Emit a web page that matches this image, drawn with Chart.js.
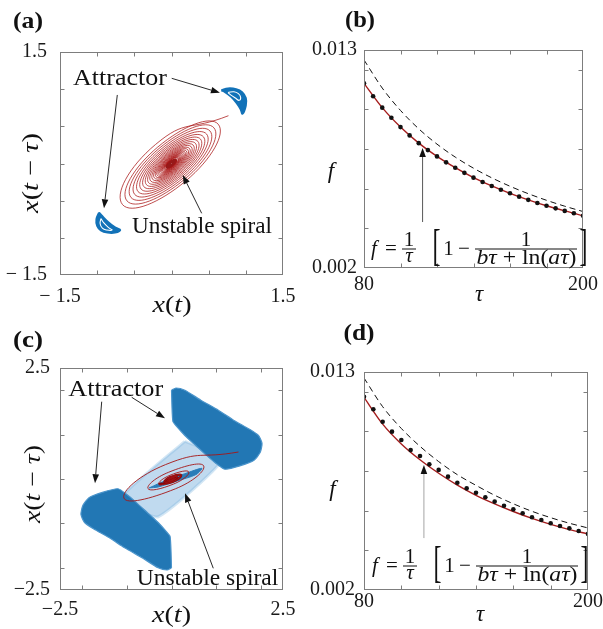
<!DOCTYPE html>
<html><head><meta charset="utf-8">
<script src="https://cdn.jsdelivr.net/npm/chart.js@4.4.0/dist/chart.umd.min.js"></script>
<style>
html,body{margin:0;padding:0;background:#fff;}
#wrap{position:relative;width:603px;height:629px;overflow:hidden;background:#fff;}
canvas{position:absolute;left:0;top:0;}
</style></head><body>
<div id="wrap">
<canvas id="ca" width="603" height="629"></canvas>
<canvas id="cb" width="603" height="629"></canvas>
<canvas id="cc" width="603" height="629"></canvas>
<canvas id="cd" width="603" height="629"></canvas>
</div>
<script>
// ---------------- DATA ----------------
// Panel (a): tick marks and phase-plane curves
const ticksA = [-1, -0.5, 0, 0.5, 1];
const spiralAX = [0.766,-0.215,-0.659,0.195, 0.629,-0.185,-0.599,0.177, 0.571,-0.169,-0.545,0.161,
 0.519,-0.153,-0.495,0.146, 0.472,-0.139,-0.450,0.133, 0.429,-0.127,-0.409,0.121, 0.390,-0.115,-0.372,0.110,
 0.355,-0.105,-0.338,0.100, 0.322,-0.095,-0.308,0.091, 0.293,-0.087,-0.280,0.082, 0.267,-0.079,-0.254,0.075,
 0.242,-0.072,-0.231,0.068, 0.220,-0.065,-0.210,0.062, 0.200,-0.059,-0.191,0.056, 0.182,-0.054,-0.174,0.051,
 0.166,-0.049,-0.158,0.047, 0.151,-0.044,-0.143,0.042, 0.137,-0.040,-0.130,0.038, 0.124,-0.037,-0.119,0.035,
 0.113,-0.033,-0.108,0.032, 0.103,-0.030,-0.098,0.029, 0.093,-0.028,-0.089,0.026, 0.085,-0.025,-0.081,0.024, 0.077];
const spiralAY = [0.643,0.256,-0.553,-0.232, 0.528,0.221,-0.503,-0.211, 0.480,0.201,-0.457,-0.192,
 0.436,0.183,-0.416,-0.174, 0.396,0.166,-0.378,-0.158, 0.360,0.151,-0.344,-0.144, 0.328,0.137,-0.312,-0.131,
 0.298,0.125,-0.284,-0.119, 0.271,0.113,-0.258,-0.108, 0.246,0.103,-0.235,-0.098, 0.224,0.094,-0.213,-0.089,
 0.203,0.085,-0.194,-0.081, 0.185,0.077,-0.176,-0.074, 0.168,0.070,-0.160,-0.067, 0.153,0.064,-0.146,-0.061,
 0.139,0.058,-0.133,-0.055, 0.126,0.053,-0.120,-0.050, 0.115,0.048,-0.110,-0.046, 0.104,0.044,-0.100,-0.042,
 0.095,0.040,-0.091,-0.038, 0.086,0.036,-0.082,-0.034, 0.078,0.033,-0.075,-0.031, 0.071,0.030,-0.068,-0.028, 0.065];
const coreAX = [0.069,-0.020,-0.063,0.018,0.057,-0.016,-0.051,0.014,0.044,-0.013,-0.038,0.011,0.032,-0.009,-0.026];
const coreAY = [0.058,0.024,-0.053,-0.022,0.048,0.019,-0.042,-0.017,0.037,0.015,-0.032,-0.013,0.027,0.010,-0.022];
const attrUpOuterX = [0.67,0.76,0.87,0.95,1.00,1.00,0.955,0.93,0.88,0.80,0.72,0.67];
const attrUpOuterY = [0.985,1.01,1.00,0.96,0.88,0.78,0.67,0.73,0.81,0.90,0.96,0.985];
const attrUpGapX = [0.76,0.84,0.90,0.93,0.91,0.86,0.80,0.76];
const attrUpGapY = [0.955,0.965,0.94,0.89,0.85,0.88,0.92,0.955];
const attrLoOuterX = [-0.975,-1.01,-1.00,-0.95,-0.86,-0.76,-0.69,-0.76,-0.85,-0.93,-0.975];
const attrLoOuterY = [-0.66,-0.75,-0.84,-0.90,-0.93,-0.93,-0.895,-0.86,-0.79,-0.71,-0.66];
const attrLoGapX = [-0.95,-0.96,-0.93,-0.87,-0.80,-0.85,-0.91,-0.95];
const attrLoGapY = [-0.74,-0.81,-0.87,-0.895,-0.895,-0.86,-0.80,-0.74];

// Panel (c)
const ticksC = [-2, -1, 0, 1, 2];
const spiralCX = [1.502,-0.132,-1.066,0.089,0.723,-0.062,-0.528,0.046,0.389,-0.034,-0.287,0.025,0.213,-0.019,-0.158,0.014,0.121,-0.010,-0.088,0.008,0.065,-0.006,-0.046];
const spiralCY = [0.608,0.325,-0.431,-0.220,0.293,0.153,-0.214,-0.114,0.158,0.084,-0.116,-0.063,0.086,0.046,-0.064,-0.035,0.049,0.026,-0.036,-0.019,0.026,0.014,-0.019];
const coreCX = [-0.287,0.025,0.213,-0.019,-0.158,0.014,0.121,-0.010,-0.088,0.008,0.065,-0.006,-0.046];
const coreCY = [-0.116,-0.063,0.086,0.046,-0.064,-0.035,0.049,0.026,-0.036,-0.019,0.026,0.014,-0.019];
const lobeUpX = [0.00,0.10,0.30,0.65,1.05,1.40,1.75,1.95,2.03,1.99,1.85,1.55,1.20,1.00,0.80,0.55,0.30,0.12,0.03,0.00];
const lobeUpY = [2.00,2.05,2.00,1.78,1.55,1.32,1.12,0.98,0.80,0.60,0.42,0.30,0.22,0.35,0.52,0.75,0.98,1.18,1.30,2.00];
const lobeLoX = [0.00,-0.10,-0.30,-0.65,-1.05,-1.40,-1.75,-1.95,-2.03,-1.99,-1.85,-1.55,-1.20,-1.00,-0.80,-0.55,-0.30,-0.12,-0.03,0.00];
const lobeLoY = [-2.00,-2.05,-2.00,-1.78,-1.55,-1.32,-1.12,-0.98,-0.80,-0.60,-0.42,-0.30,-0.22,-0.35,-0.52,-0.75,-0.98,-1.18,-1.30,-2.00];
const bandX = [0.30,1.15,-0.30,-1.15,0.30];
const bandY = [0.85,0.45,-0.85,-0.45,0.85];
const blobX = [-0.50,-0.10,0.30,0.68,0.55,0.10,-0.30,-0.50];
const blobY = [-0.20,-0.02,0.12,0.24,0.10,-0.05,-0.18,-0.20];

// Panels (b) and (d)
const ticksTau = [100, 120, 140, 160, 180];
const ticksF = [0.004, 0.006, 0.008, 0.010, 0.012];
const tauDots = [80,85,90,95,100,105,110,115,120,125,130,135,140,145,150,155,160,165,170,175,180,185,190,195,200];
const tauLine = [80,90,100,110,120,130,140,150,160,170,180,190,200];
const dotsB = [0.01132,0.01067,0.01009,0.00958,0.00911,0.00869,0.00830,0.00795,0.00763,0.00733,0.00706,0.00680,0.00656,0.00634,0.00614,0.00595,0.00577,0.00560,0.00544,0.00528,0.00514,0.00501,0.00488,0.00476,0.00464];
const fitB = [0.01132,0.01009,0.00911,0.00830,0.00763,0.00706,0.00656,0.00614,0.00577,0.00544,0.00514,0.00488,0.00464];
const dashB = [0.01250,0.01108,0.00995,0.009023,0.00825,0.007596,0.007036,0.00655,0.006125,0.00575,0.005417,0.005118,0.00485];
const dotsD = [0.01175,0.01112,0.01049,0.00999,0.00957,0.00906,0.00876,0.00834,0.00806,0.00772,0.00741,0.00713,0.00691,0.00668,0.00646,0.00625,0.00607,0.00587,0.00567,0.00553,0.00537,0.00523,0.00511,0.00498,0.00483];
const fitD = [0.01172,0.01037,0.00937,0.00857,0.00789,0.00729,0.00678,0.00635,0.00596,0.00561,0.00531,0.00505,0.00483];
const dashD = [0.0127,0.01125,0.01015,0.00925,0.00848,0.00782,0.00728,0.00678,0.00635,0.00597,0.00565,0.00537,0.00513];

// ---------------- HELPERS ----------------
const SERIF = '"Liberation Serif","Times New Roman",serif';
function fontOf(s, size){ return (s==='i'?'italic ':s==='b'?'bold ':'') + size + 'px ' + SERIF; }
function runsWidth(ctx, runs, size){
  let w = 0;
  for (const r of runs){ ctx.font = fontOf(r[1], size); w += ctx.measureText(r[0]).width; }
  return w;
}
function drawRuns(ctx, runs, x, y, size, target, align, color){
  ctx.save();
  ctx.textAlign = 'left'; ctx.textBaseline = 'alphabetic'; ctx.fillStyle = color || '#111';
  const w0 = runsWidth(ctx, runs, size);
  const sx = target ? target / w0 : 1;
  const vis = w0 * sx;
  const x0 = align === 'center' ? x - vis/2 : (align === 'right' ? x - vis : x);
  ctx.translate(x0, y); ctx.scale(sx, 1);
  let cx = 0;
  for (const r of runs){ ctx.font = fontOf(r[1], size); ctx.fillText(r[0], cx, 0); cx += ctx.measureText(r[0]).width; }
  ctx.restore();
}
function tallGlyph(ctx, ch, cx, top, bottom){
  const size = 24, sy = (bottom - top) / (0.84 * size);
  ctx.save();
  ctx.font = fontOf('', size); ctx.fillStyle = '#111'; ctx.textBaseline = 'alphabetic'; ctx.textAlign = 'center';
  ctx.translate(cx, bottom); ctx.scale(1, sy);
  ctx.fillText(ch, 0, -0.177 * size);
  ctx.restore();
}
function hbar(ctx, x1, x2, y){ ctx.fillStyle = '#111'; ctx.fillRect(x1, y - 0.5, x2 - x1, 1); }
function arrow(ctx, x1, y1, x2, y2, lineColor, headColor){
  const ang = Math.atan2(y2 - y1, x2 - x1), L = 9, W = 3.3;
  const bx = x2 - L*Math.cos(ang), by = y2 - L*Math.sin(ang);
  ctx.save();
  ctx.strokeStyle = lineColor || '#111'; ctx.lineWidth = 0.9;
  ctx.beginPath(); ctx.moveTo(x1, y1); ctx.lineTo(bx, by); ctx.stroke();
  ctx.fillStyle = headColor || '#111';
  ctx.beginPath(); ctx.moveTo(x2, y2);
  ctx.lineTo(bx - W*Math.sin(ang), by + W*Math.cos(ang));
  ctx.lineTo(bx + W*Math.sin(ang), by - W*Math.cos(ang));
  ctx.closePath(); ctx.fill();
  ctx.restore();
}
const XT = [['x','i'],['(',''],['t','i'],[')','']];
const YT = [['x','i'],['(',''],['t','i'],[' − ',''],['τ','i'],[')','']];
function drawFormula(ctx, x0, by){
  const S = 21, d = x0 - 370;
  drawRuns(ctx, [['f','i']], 371 + d, by + 6, S, null, 'left');
  drawRuns(ctx, [['=','']], 391 + d, by + 6, S, null, 'center');
  hbar(ctx, 402 + d, 416 + d, by);
  drawRuns(ctx, [['1','']], 409 + d, by - 3.5, S, null, 'center');
  drawRuns(ctx, [['τ','i']], 409 + d, by + 13, S, null, 'center');
  tallGlyph(ctx, '[', 436.5 + d, by - 19, by + 19);
  drawRuns(ctx, [['1','']], 448.5 + d, by + 6, S, null, 'center');
  drawRuns(ctx, [['−','']], 464 + d, by + 6, S, null, 'center');
  hbar(ctx, 475 + d, 577 + d, by);
  drawRuns(ctx, [['1','']], 526 + d, by - 3.5, S, null, 'center');
  drawRuns(ctx, [['b','i'],['τ','i'],[' + ',''],['ln(',''],['a','i'],['τ','i'],[')','']], 526.5 + d, by + 15, S, 100, 'center');
  tallGlyph(ctx, ']', 583.5 + d, by - 19, by + 19);
}
function pts(xs, ys){ const n = Math.min(xs.length, ys.length); const o = []; for (let i = 0; i < n; i++) o.push({x: xs[i], y: ys[i]}); return o; }
function near(a, b){ return Math.abs(a - b) < 1e-9; }
function linAxis(o){
  return {
    type: 'linear', min: o.min, max: o.max,
    grid: {display: false, drawTicks: false}, border: {display: false},
    ticks: {stepSize: o.step, autoSkip: false, maxRotation: 0, minRotation: 0, padding: o.pad, color: '#1a1a1a',
      font: {family: SERIF, size: 20},
      callback: v => near(v, o.min) ? o.labels[0] : (near(v, o.max) ? o.labels[1] : '')},
    afterFit: s => { if (o.isX) s.height = o.size; else s.width = o.size; }
  };
}
function makeFrame(tx, ty){
  return {id: 'frame', afterDatasetsDraw(chart){
    const ctx = chart.ctx, a = chart.chartArea, sx = chart.scales.x, sy = chart.scales.y;
    ctx.save();
    ctx.strokeStyle = '#7d7d7d'; ctx.lineWidth = 1;
    const l = Math.round(a.left) + 0.5, t = Math.round(a.top) + 0.5, r = Math.round(a.right) - 0.5, b = Math.round(a.bottom) - 0.5;
    ctx.strokeRect(l, t, r - l, b - t);
    ctx.beginPath();
    for (const v of tx){ const p = Math.round(sx.getPixelForValue(v)) + 0.5; ctx.moveTo(p, b); ctx.lineTo(p, b - 4); ctx.moveTo(p, t); ctx.lineTo(p, t + 4); }
    for (const v of ty){ const p = Math.round(sy.getPixelForValue(v)) + 0.5; ctx.moveTo(l, p); ctx.lineTo(l + 4, p); ctx.moveTo(r, p); ctx.lineTo(r - 4, p); }
    ctx.stroke();
    ctx.restore();
  }};
}
function makeChart(id, plot, yW, xo, yo, tx, ty, datasets, annot){
  return new Chart(document.getElementById(id), {
    type: 'scatter',
    data: {datasets},
    options: {
      responsive: false, animation: false, events: [],
      layout: {autoPadding: false, padding: {left: plot[0] - yW, top: plot[1], right: 603 - plot[2], bottom: 629 - plot[3] - 34}},
      plugins: {legend: {display: false}, tooltip: {enabled: false}, title: {display: false}},
      scales: {x: linAxis(Object.assign({isX: true, size: 34}, xo)), y: linAxis(Object.assign({isX: false, size: yW}, yo))}
    },
    plugins: [makeFrame(tx, ty), {id: 'annot', afterDraw(chart){ annot(chart, chart.ctx); }}]
  });
}
function lineDS(data, color, width, extra){
  return Object.assign({data, showLine: true, borderColor: color, borderWidth: width, pointRadius: 0, fill: false}, extra || {});
}
const BLUE = '#1272b8';

// ---------------- PANEL (a) ----------------
makeChart('ca', [60, 52, 283, 275], 60,
  {min: -1.5, max: 1.5, step: 0.5, labels: ['− 1.5', '1.5'], pad: 10},
  {min: -1.5, max: 1.5, step: 0.5, labels: ['− 1.5', '1.5'], pad: 13},
  ticksA, ticksA,
  [
    lineDS(pts(spiralAX, spiralAY), 'rgba(170,22,22,0.85)', 0.9, {tension: 0.55, order: 0}),
    lineDS(pts(coreAX, coreAY), 'rgba(140,0,0,0.9)', 2.2, {tension: 0.55, order: 0}),
    lineDS(pts(attrUpGapX, attrUpGapY), '#ffffff', 1.1, {tension: 0.45, order: 1}),
    lineDS(pts(attrLoGapX, attrLoGapY), '#ffffff', 1.1, {tension: 0.45, order: 1}),
    lineDS(pts(attrUpOuterX, attrUpOuterY), BLUE, 2, {tension: 0.4, fill: 'shape', backgroundColor: BLUE, order: 2}),
    lineDS(pts(attrLoOuterX, attrLoOuterY), BLUE, 2, {tension: 0.4, fill: 'shape', backgroundColor: BLUE, order: 2})
  ],
  (chart, ctx) => {
    const X = v => chart.scales.x.getPixelForValue(v), Y = v => chart.scales.y.getPixelForValue(v);
    drawRuns(ctx, [['(a)','b']], 28, 27.5, 23, 30, 'center');
    drawRuns(ctx, XT, 172, 312, 23, 39, 'center');
    ctx.save(); ctx.translate(38, 173); ctx.rotate(-Math.PI/2); drawRuns(ctx, YT, 0, 0, 23, 80, 'center'); ctx.restore();
    drawRuns(ctx, [['Attractor','']], 73, 85, 23, 94, 'left');
    drawRuns(ctx, [['Unstable spiral','']], 132, 232.5, 23, 140, 'left');
    arrow(ctx, X(0.003), Y(1.146), X(0.652), Y(0.952));
    arrow(ctx, X(-0.729), Y(0.922), X(-0.908), Y(-0.603));
    arrow(ctx, X(0.406), Y(-0.67), X(0.151), Y(-0.155));
  });

// ---------------- PANEL (b) ----------------
makeChart('cb', [364, 50, 588, 268], 70,
  {min: 80, max: 200, step: 20, labels: ['80', '200'], pad: 5},
  {min: 0.002, max: 0.013, step: 0.002, labels: ['0.002', '0.013'], pad: 7},
  ticksTau, ticksF,
  [
    {data: pts(tauDots, dotsB), pointRadius: 2.3, pointBackgroundColor: '#111', pointBorderWidth: 0, showLine: false, order: 0},
    lineDS(pts(tauLine, fitB), '#a51d1d', 1.4, {cubicInterpolationMode: 'monotone', order: 1}),
    lineDS(pts(tauLine, dashB), '#111', 1, {cubicInterpolationMode: 'monotone', borderDash: [6, 4], order: 2})
  ],
  (chart, ctx) => {
    const X = v => chart.scales.x.getPixelForValue(v), Y = v => chart.scales.y.getPixelForValue(v);
    drawRuns(ctx, [['(b)','b']], 360, 26.5, 23, 30, 'center');
    drawRuns(ctx, [['τ','i']], 479, 301, 23, null, 'center');
    drawRuns(ctx, [['f','i']], 331, 177.5, 23, null, 'center');
    arrow(ctx, X(112.1), Y(0.00432), X(112.1), Y(0.00806), '#444', '#111');
    drawFormula(ctx, 370, 249);
  });

// ---------------- PANEL (c) ----------------
makeChart('cc', [60, 368, 283, 590], 60,
  {min: -2.5, max: 2.5, step: 0.5, labels: ['−2.5', '2.5'], pad: 8},
  {min: -2.5, max: 2.5, step: 0.5, labels: ['−2.5', '2.5'], pad: 10},
  ticksC, ticksC,
  [
    lineDS(pts(spiralCX, spiralCY), 'rgba(165,22,22,0.9)', 1, {tension: 0.55, order: 0}),
    lineDS(pts(coreCX, coreCY), 'rgba(140,0,0,0.95)', 2.4, {tension: 0.55, order: 0}),
    lineDS(pts(blobX, blobY), '#2a7cb8', 1, {tension: 0.3, fill: 'shape', backgroundColor: '#2a7cb8', order: 1}),
    lineDS(pts(lobeUpX, lobeUpY), '#4a94cb', 1.2, {tension: 0.2, fill: 'shape', backgroundColor: '#2277b4', order: 2}),
    lineDS(pts(lobeLoX, lobeLoY), '#4a94cb', 1.2, {tension: 0.2, fill: 'shape', backgroundColor: '#2277b4', order: 2}),
    lineDS(pts(bandX, bandY), 'rgba(130,182,224,0.35)', 3, {tension: 0.15, fill: 'shape', backgroundColor: 'rgba(130,182,224,0.5)', order: 3})
  ],
  (chart, ctx) => {
    const X = v => chart.scales.x.getPixelForValue(v), Y = v => chart.scales.y.getPixelForValue(v);
    drawRuns(ctx, [['(c)','b']], 28, 346.5, 23, 30, 'center');
    drawRuns(ctx, XT, 171.5, 622, 23, 39, 'center');
    ctx.save(); ctx.translate(40, 484); ctx.rotate(-Math.PI/2); drawRuns(ctx, YT, 0, 0, 23, 78, 'center'); ctx.restore();
    drawRuns(ctx, [['Attractor','']], 68.3, 396, 23, 95, 'left');
    drawRuns(ctx, [['Unstable spiral','']], 136.7, 585, 23, 141.6, 'left');
    arrow(ctx, X(-0.892), Y(1.84), X(-0.146), Y(1.367));
    arrow(ctx, X(-1.565), Y(1.741), X(-1.715), Y(-0.097));
    arrow(ctx, X(0.937), Y(-2.011), X(0.303), Y(-0.322));
  });

// ---------------- PANEL (d) ----------------
makeChart('cd', [364, 372, 589, 590], 70,
  {min: 80, max: 200, step: 20, labels: ['80', '200'], pad: 0},
  {min: 0.002, max: 0.013, step: 0.002, labels: ['0.002', '0.013'], pad: 9},
  ticksTau, ticksF,
  [
    {data: pts(tauDots, dotsD), pointRadius: 2.3, pointBackgroundColor: '#111', pointBorderWidth: 0, showLine: false, order: 0},
    lineDS(pts(tauLine, fitD), '#a51d1d', 1.4, {cubicInterpolationMode: 'monotone', order: 1}),
    lineDS(pts(tauLine, dashD), '#111', 1, {cubicInterpolationMode: 'monotone', borderDash: [6, 4], order: 2})
  ],
  (chart, ctx) => {
    const X = v => chart.scales.x.getPixelForValue(v), Y = v => chart.scales.y.getPixelForValue(v);
    drawRuns(ctx, [['(d)','b']], 359, 339.5, 23, 31, 'center');
    drawRuns(ctx, [['τ','i']], 480, 621, 23, null, 'center');
    drawRuns(ctx, [['f','i']], 332.5, 496, 23, null, 'center');
    arrow(ctx, X(112.1), Y(0.00462), X(112.1), Y(0.00831), '#9a9a9a', '#111');
    drawFormula(ctx, 371, 566);
  });
</script>
</body></html>
